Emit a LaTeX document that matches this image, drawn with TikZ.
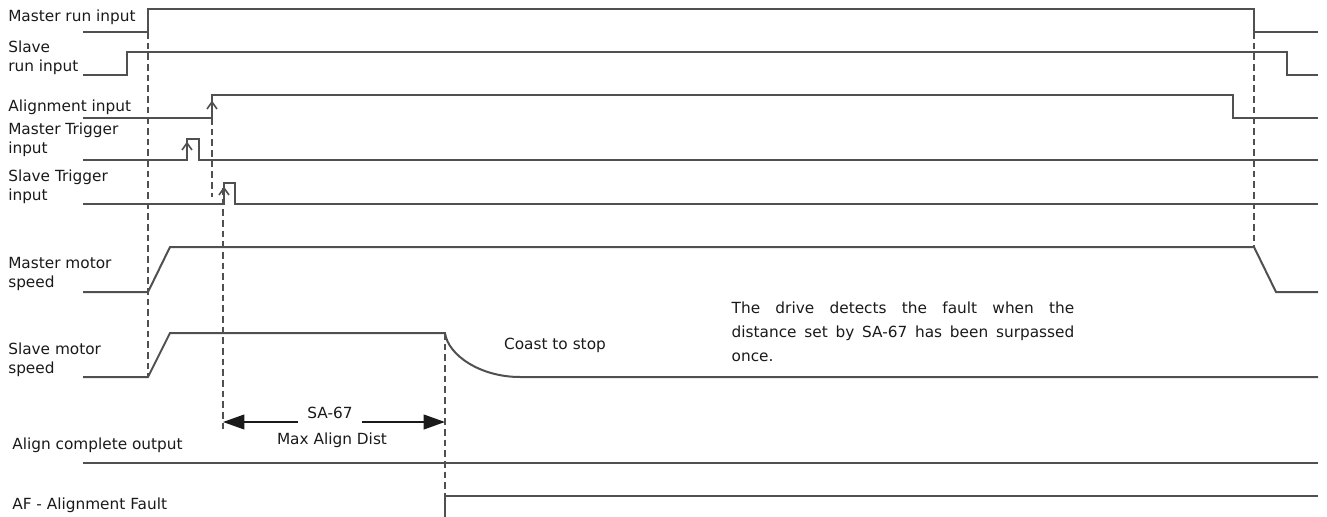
\documentclass[tikz,border=0pt]{standalone}
\usepackage{fontspec}
\setmainfont{DejaVu Sans}
\usetikzlibrary{arrows.meta}
\definecolor{linie}{HTML}{505050}
\definecolor{schrift}{HTML}{1A1A1A}
\tikzset{
  sig/.style={linie,line width=1.5pt},
  hilf/.style={linie,line width=1.2pt,dash pattern=on 5pt off 3pt},
  flanke/.style={linie,line width=1.2pt},
  mass/.style={-{Triangle[length=16pt,width=11pt]},schrift,line width=1.5pt},
  txt/.style={schrift,inner sep=0pt,font=\fontsize{11.5}{14}\selectfont},
  lbl/.style={txt,anchor=west,align=left},
}
\begin{document}
\begin{tikzpicture}[x=0.75pt,y=-0.75pt]
  \useasboundingbox (0,0) rectangle (1327,517);
  % Beschriftung links
  \node[lbl] (mrun) at (8,17) {Master run input};
  \node[lbl] (srun) at (8,58) {Slave\\run input};
  \node[lbl] (alin) at (8,107) {Alignment input};
  \node[lbl] (mtrig) at (8,140) {Master Trigger\\input};
  \node[lbl] (strig) at (8,187) {Slave Trigger\\input};
  \node[lbl] (mspd) at (8,274) {Master motor\\speed};
  \node[lbl] (sspd) at (8,360) {Slave motor\\speed};
  \node[lbl] (acomp) at (12,445) {Align complete output};
  \node[lbl] (afault) at (12,505) {AF - Alignment Fault};
  % Hilfslinien
  \draw[hilf] (148,32) -- (148,377);
  \draw[hilf] (212,118) -- (212,197);
  \draw[hilf] (223,188) -- (223,430);
  \draw[hilf] (445,333) -- (445,496);
  \draw[hilf] (1254,32) -- (1254,247);
  % Eingaenge
  \draw[sig] (83,32) -- (148,32) -- (148,9) -- (1254,9) -- (1254,32) -- (1318,32);
  \draw[sig] (83,75) -- (127,75) -- (127,52) -- (1287,52) -- (1287,75) -- (1318,75);
  \draw[sig] (83,118) -- (212,118) -- (212,95) -- (1233,95) -- (1233,118) -- (1318,118);
  \draw[sig] (83,160) -- (187,160) -- (187,139) -- (199,139) -- (199,160) -- (1318,160);
  \draw[sig] (83,204) -- (224,204) -- (224,183) -- (235,183) -- (235,204) -- (1318,204);
  % steigende Flanken
  \foreach \x/\y in {212/102,187/143,224/188}
    \draw[flanke] (\x-5,\y+7) -- (\x,\y) -- (\x+5,\y+7);
  % Drehzahlen
  \draw[sig] (83,292) -- (148,292) -- (170,247) -- (1254,247) -- (1276,292) -- (1318,292);
  \draw[sig] (83,377) -- (148,377) -- (170,333) -- (445,333)
    .. controls (448,355) and (480,377) .. (520,377) -- (1318,377);
  \node[txt] (coast) at (555,345) {Coast to stop};
  \node[txt,text width=257pt,align=justify,font=\fontsize{11.5}{18}\selectfont] (fault) at (903,332)
    {The drive detects the fault when the\linebreak distance set by SA-67 has been surpassed once.};
  % Ausgaenge
  \draw[sig] (83,463) -- (1318,463);
  \draw[sig] (445,517) -- (445,496) -- (1318,496);
  % Masspfeil SA-67
  \coordinate (dl) at (223,422);
  \coordinate (dr) at (445,422);
  \node[txt,inner xsep=7pt] (sa) at (330,413) {SA-67};
  \node[txt] (maxd) at (332,440) {Max Align Dist};
  \draw[mass] (sa.west |- dl) -- (dl);
  \draw[mass] (sa.east |- dr) -- (dr);
\end{tikzpicture}
\end{document}
